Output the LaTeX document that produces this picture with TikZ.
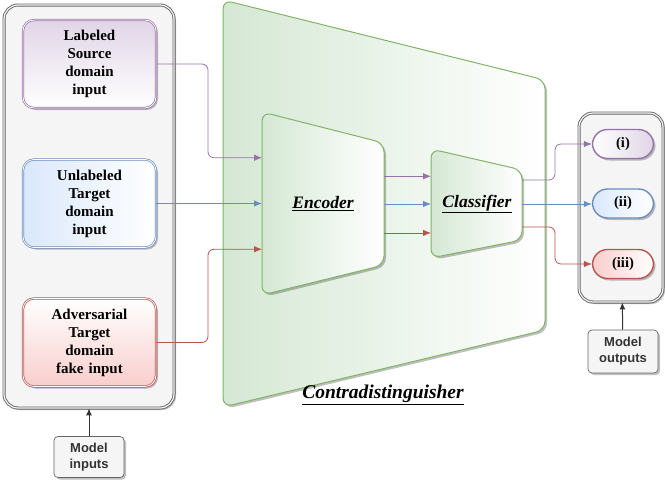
\documentclass[tikz,border=0pt]{standalone}
\usepackage{fontspec}
\setmainfont{Liberation Serif}
\newfontfamily\labelfont{Liberation Sans}
\usetikzlibrary{arrows.meta,shadows,calc}

\definecolor{purpfill}{HTML}{E1D5E7}
\definecolor{purpline}{HTML}{9673A6}
\definecolor{bluefill}{HTML}{DAE8FC}
\definecolor{blueline}{HTML}{6C8EBF}
\definecolor{redfill}{HTML}{F8CECC}
\definecolor{redline}{HTML}{B85450}
\definecolor{greenfill}{HTML}{D5E8D4}
\definecolor{greenline}{HTML}{82B366}
\definecolor{grayfill}{HTML}{F5F5F5}
\definecolor{grayline}{HTML}{666666}
\definecolor{graytext}{HTML}{333333}

\tikzset{
  shadowed/.style={drop shadow={shadow xshift=2pt,shadow yshift=-2pt,opacity=0.25,fill=black}},
  container/.style={draw=grayline,double=grayfill,double distance=1.2pt,line width=0.9pt,
    fill=grayfill,rounded corners=14pt,shadowed},
  inputbox/.style={draw=#1,double=white,double distance=0.8pt,line width=0.7pt,rounded corners=11pt,
    minimum width=133pt,minimum height=88pt,align=center,text width=120pt,
    font=\fontsize{15}{18}\selectfont\bfseries,shadowed},
  outputbox/.style={draw=#1,line width=1.4pt,rounded corners=15pt,minimum width=61pt,minimum height=29pt,
    font=\fontsize{14.5}{16}\selectfont\bfseries,shadowed},
  notebox/.style={draw=grayline,fill=grayfill,rounded corners=4pt,line width=0.7pt,
    minimum width=70pt,minimum height=41pt,align=center,text=graytext,
    font=\labelfont\fontsize{13}{16}\selectfont\bfseries,shadowed},
  netshape/.style={draw=greenline,line width=1pt,left color=greenfill,right color=white,
    rounded corners=9pt,shadowed},
  netlabel/.style={font=\fontsize{17.5}{20}\selectfont\bfseries\itshape},
  conn/.style={draw=#1,line width=0.8pt,rounded corners=6pt},
  flow/.style={conn=#1,-{Latex[length=8pt,width=6.5pt]}},
}

\begin{document}
\begin{tikzpicture}[x=1pt,y=-1pt]
  \useasboundingbox (0,0) rectangle (665,485);

  % model inputs
  \node[container,minimum width=170pt,minimum height=403pt] (inbox) at (89,206.5) {};
  \node[inputbox=purpline,top color=purpfill,bottom color=white] (src) at (89.5,64) {Labeled\\Source\\domain\\input};
  \node[inputbox=blueline,left color=bluefill,right color=white] (tgt) at (89.5,203.5) {Unlabeled\\Target\\domain\\input};
  \node[inputbox=redline,top color=white,bottom color=redfill] (adv) at (89.5,342.5) {Adversarial\\Target\\domain\\fake input};
  \node[notebox] (minputs) at (89,457) {Model\\inputs};
  \draw[-{Latex[length=7pt,width=6pt]},line width=1pt,draw=graytext] (minputs) -- (inbox);

  % contradistinguisher
  \path[netshape] (223,200) -- (223,0) -- (545,80) -- (545,330) -- (223,407) -- cycle;
  \node[netlabel,font=\fontsize{19.5}{22}\selectfont\bfseries\itshape] (contra) at (383,395) {\underline{Contradistinguisher}};

  % encoder
  \path[netshape] (262,200) -- (262,112) -- (384,143) -- (384,265) -- (262,295) -- cycle;
  \coordinate (encTL) at (262,112);
  \coordinate (encBL) at (262,295);
  \coordinate (encR) at (384,204);
  \node[netlabel] (enc) at (323,204) {\underline{Encoder}};

  % classifier
  \path[netshape] (431,200) -- (431,149) -- (522,170) -- (522,240) -- (431,258) -- cycle;
  \coordinate (clsTL) at (431,149);
  \coordinate (clsBL) at (431,258);
  \coordinate (clsR) at (522,204);
  \node[netlabel] (cls) at (477,204) {\underline{Classifier}};

  % model outputs
  \node[container,minimum width=84pt,minimum height=189pt] (outbox) at (621,207.5) {};
  \node[outputbox=purpline,left color=white,right color=purpfill] (outi) at (623,144) {(i)};
  \node[outputbox=blueline,left color=bluefill,right color=white] (outii) at (623,203.5) {(ii)};
  \node[outputbox=redline,left color=redfill,right color=white] (outiii) at (623,264) {(iii)};
  \node[notebox,minimum height=43pt] (moutputs) at (623,351.5) {Model\\outputs};
  \draw[-{Latex[length=7pt,width=6pt]},line width=1pt,draw=graytext] (moutputs) -- (outbox);

  % inputs into encoder
  \coordinate (inbend) at (208,0);
  \draw[flow=purpline] (src.east) -| (inbend |- {$(encTL)!0.25!(encBL)$}) -- ($(encTL)!0.25!(encBL)$);
  \draw[flow=blueline] (tgt.east) -- (tgt.east -| encTL);
  \draw[flow=redline] (adv.east) -| (inbend |- {$(encTL)!0.75!(encBL)$}) -- ($(encTL)!0.75!(encBL)$);

  % encoder into classifier
  \draw[flow=purpline] (encR |- {$(clsTL)!0.25!(clsBL)$}) -- ($(clsTL)!0.25!(clsBL)$);
  \draw[flow=blueline] (encR) -- (encR -| clsTL);
  \draw[flow=redline] (encR |- {$(clsTL)!0.77!(clsBL)$}) -- ($(clsTL)!0.77!(clsBL)$);

  % classifier into outputs
  \coordinate (outbend) at (555,0);
  \draw[flow=purpline] (clsR |- 0,180) -| (outbend |- outi.west) -- (outi.west);
  \draw[flow=blueline] (clsR) -- (clsR -| outii.west);
  \draw[flow=redline] (clsR |- 0,227) -| (outbend |- outiii.west) -- (outiii.west);
\end{tikzpicture}
\end{document}
